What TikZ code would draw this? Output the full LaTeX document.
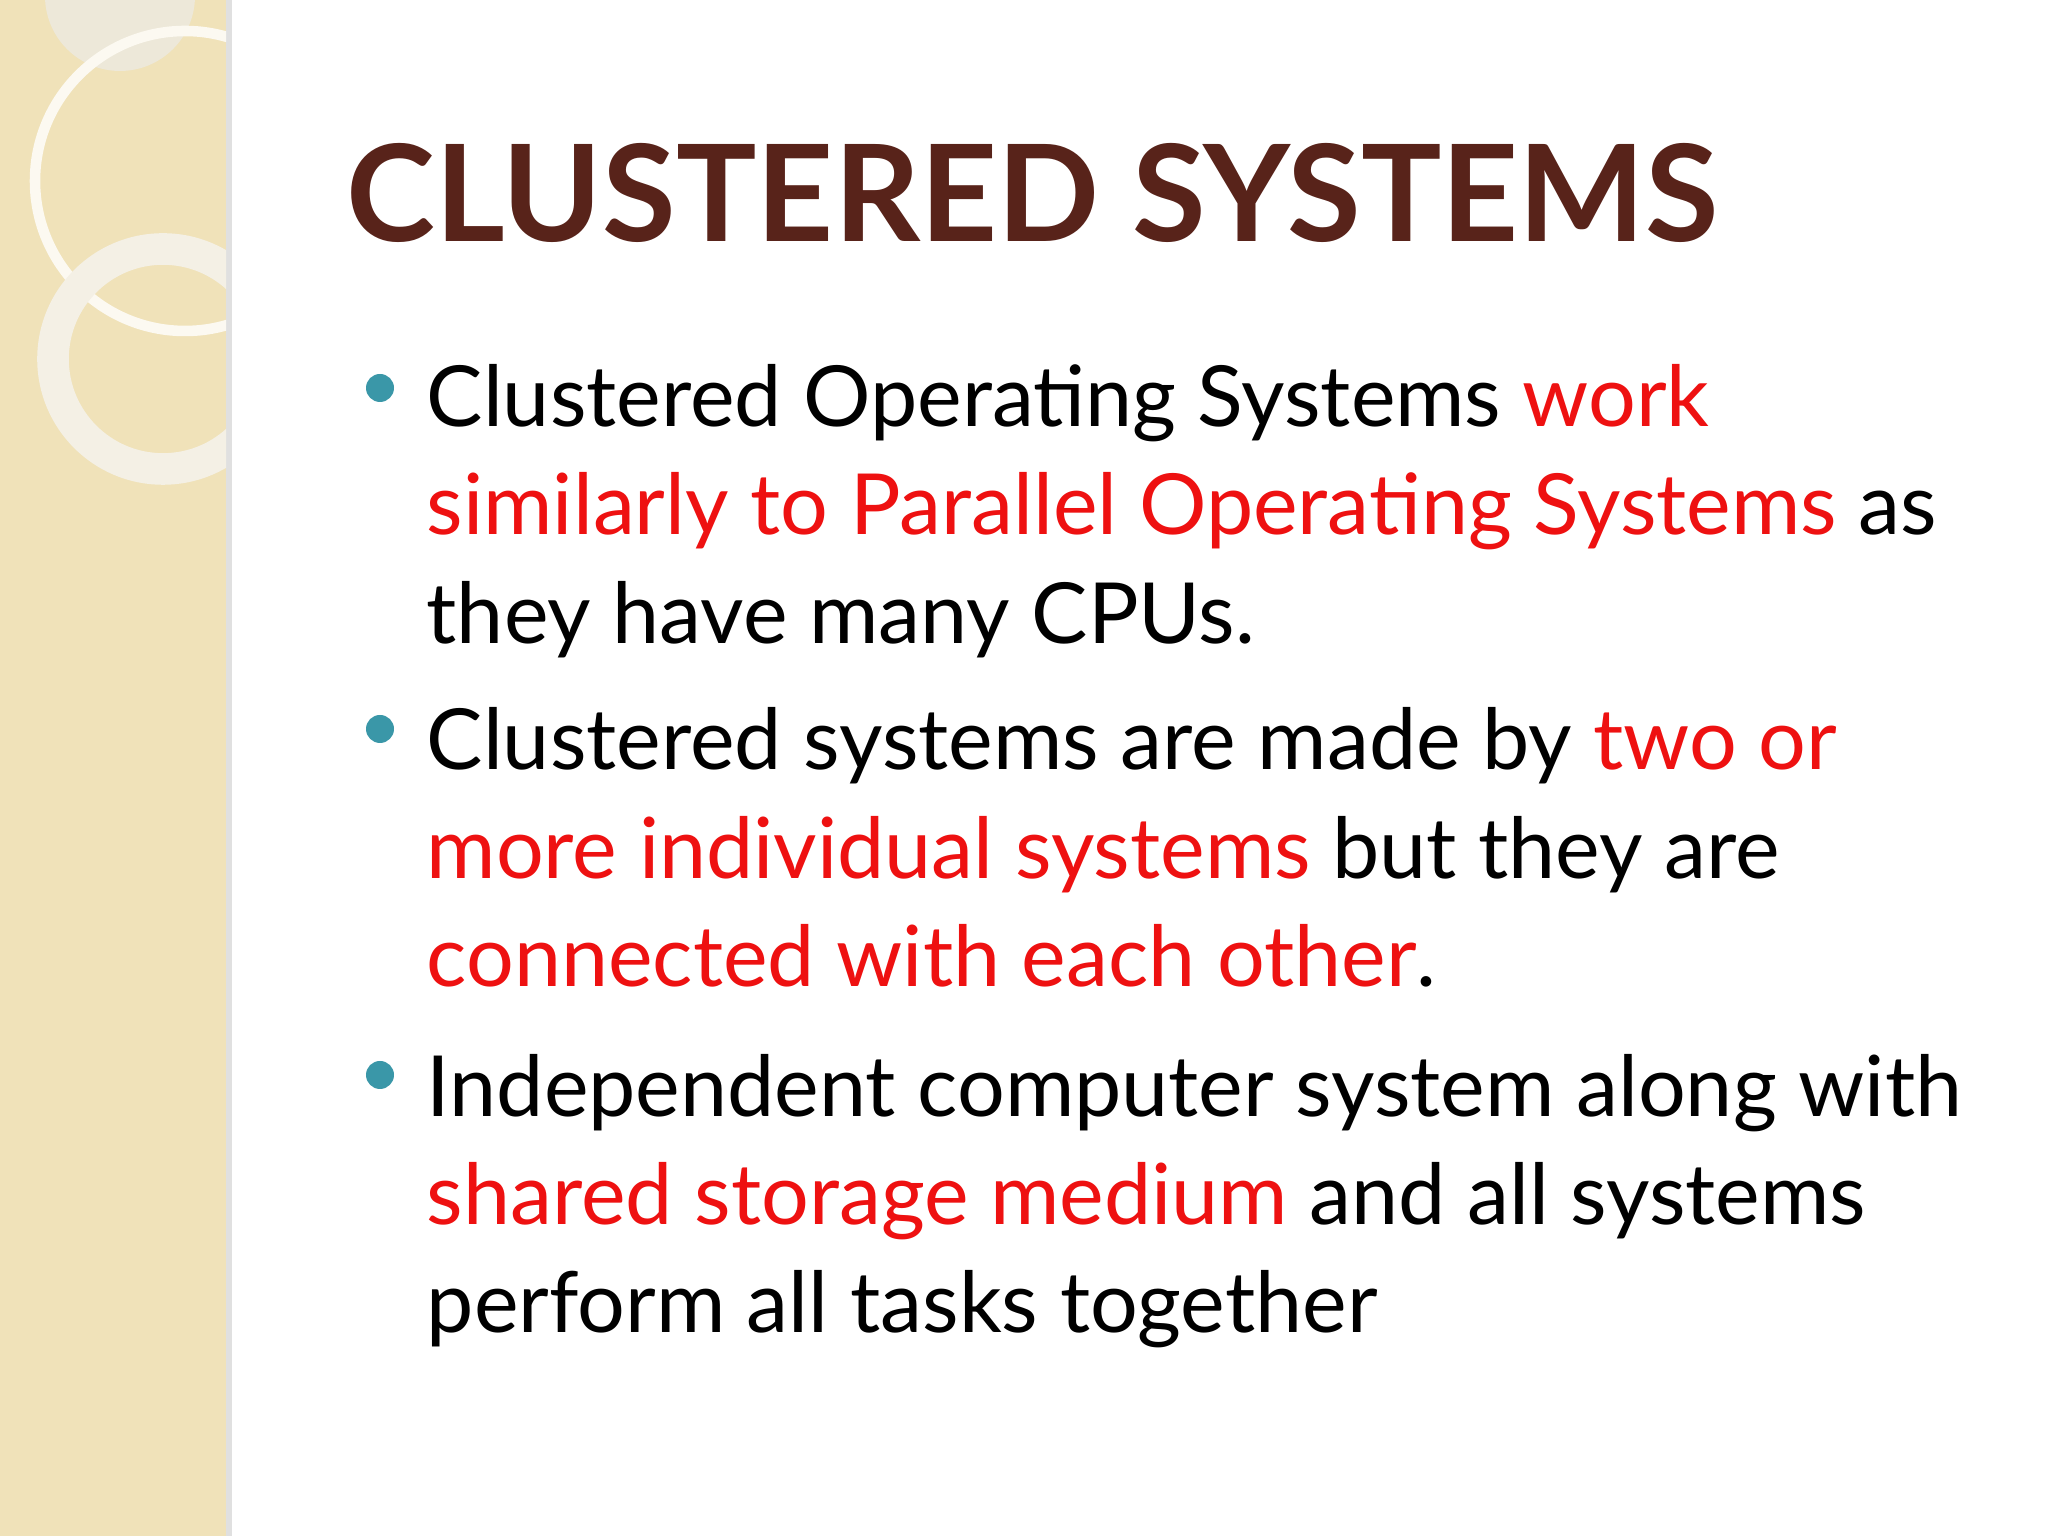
\documentclass[tikz,border=0pt]{standalone}
\usepackage{fontspec}
\setmainfont{Lato}
\definecolor{strip}{HTML}{F0E2B9}
\definecolor{ttl}{HTML}{58231A}
\definecolor{bul}{HTML}{3A97A8}
\definecolor{hl}{HTML}{EE1111}
\tikzset{bodytxt/.style={anchor=base west,inner sep=0pt,font=\fontsize{24}{28}\selectfont},
bullet/.style={circle,fill=bul,minimum size=0.28cm,inner sep=0pt}}
\begin{document}
\begin{tikzpicture}[x=1cm,y=1cm]
\useasboundingbox (0,0) rectangle (20.48,15.36);
\fill[white] (0,0) rectangle (20.48,15.36);
\fill[strip] (0,0) rectangle (2.26,15.36);
\fill[black!12] (2.26,0) rectangle (2.32,15.36);
\begin{scope}
\clip (0,0) rectangle (2.26,15.36);
\fill[white!60!strip!90!gray] (1.2,15.4) circle (0.75);
\draw[white!80!strip,line width=3pt] (1.85,13.55) circle (1.5);
\draw[white!70!strip!95!gray,line width=9pt] (1.63,11.77) circle (1.1);
\end{scope}
\node[anchor=base west,inner sep=0pt,text=ttl,font=\fontsize{38.2}{44}\selectfont\bfseries] (title) at (3.46,12.94) {CLUSTERED SYSTEMS};
\node[bodytxt] (l1) at (4.26,11.09) {Clustered Operating Systems \textcolor{hl}{work}};
\node[bodytxt] (l2) at (4.26,10.01) {\textcolor{hl}{similarly to Parallel Operating Systems} as};
\node[bodytxt] (l3) at (4.26,8.92) {they have many CPUs.};
\node[bodytxt] (l4) at (4.26,7.66) {Clustered systems are made by \textcolor{hl}{two or}};
\node[bodytxt] (l5) at (4.26,6.57) {\textcolor{hl}{more individual systems} but they are};
\node[bodytxt] (l6) at (4.26,5.49) {\textcolor{hl}{connected with each other}.};
\node[bodytxt] (l7) at (4.26,4.19) {Independent computer system along with};
\node[bodytxt] (l8) at (4.26,3.11) {\textcolor{hl}{shared storage medium} and all systems};
\node[bodytxt] (l9) at (4.26,2.03) {perform all tasks together};
\node[bullet] (d1) at (3.80,11.48) {};
\node[bullet] (d2) at (3.80,8.07) {};
\node[bullet] (d3) at (3.80,4.61) {};
\end{tikzpicture}
\end{document}
